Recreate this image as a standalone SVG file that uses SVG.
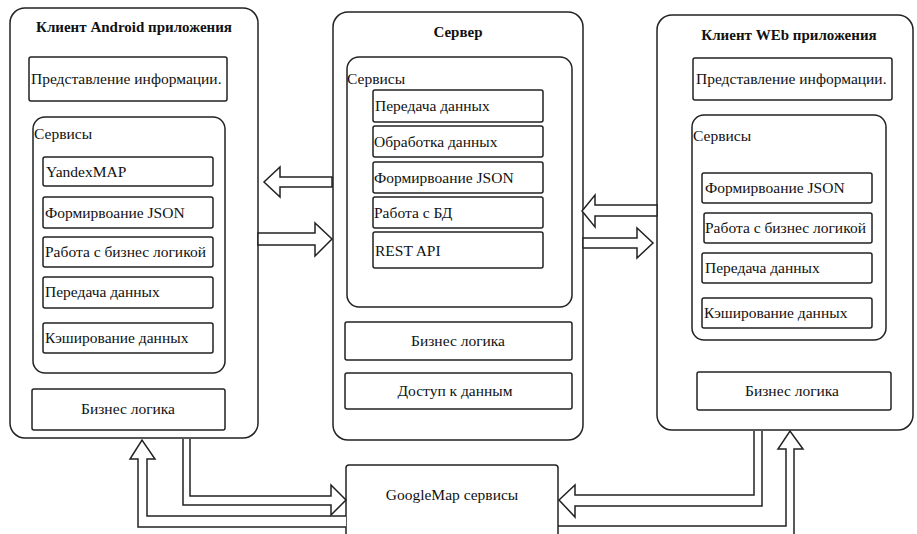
<svg xmlns="http://www.w3.org/2000/svg" width="917" height="534" viewBox="0 0 917 534" font-family="'Liberation Serif', 'DejaVu Serif', serif">
<style>
.box{fill:#fff;stroke:#222;stroke-width:1.5}
.arr{fill:#fff;stroke:#222;stroke-width:1.5;stroke-linejoin:miter}
text{font-family:'Liberation Serif','DejaVu Serif',serif;font-size:15.5px;fill:#111}
.t{font-weight:bold;text-anchor:middle;font-size:15px}
.c{text-anchor:middle}
</style>
<rect width="917" height="534" fill="#fff"/>
<g id="android">
<rect class="box" x="10" y="8" width="248" height="430" rx="15"/>
<text class="t" x="134" y="32">Клиент Android приложения</text>
<g id="android-view"><rect class="box" x="29" y="57" width="198" height="44" rx="2"/><text x="31" y="84">Представление информации.</text></g>
<g id="android-services">
<rect class="box" x="33" y="117" width="192" height="256" rx="12"/>
<text x="34" y="139">Сервисы</text>
<rect class="box" x="43" y="157" width="170" height="29" rx="2"/><text x="46" y="177">YandexMAP</text>
<rect class="box" x="43" y="197" width="170" height="31" rx="2"/><text x="45" y="218">Формирвоание JSON</text>
<rect class="box" x="43" y="237" width="170" height="30" rx="2"/><text x="45" y="257">Работа с бизнес логикой</text>
<rect class="box" x="43" y="277" width="170" height="31" rx="2"/><text x="45" y="297">Передача данных</text>
<rect class="box" x="43" y="323" width="170" height="30" rx="2"/><text x="45" y="343">Кэширование данных</text>
</g>
<g id="android-logic"><rect class="box" x="32" y="389" width="193" height="41" rx="2"/><text class="c" x="128" y="414">Бизнес логика</text></g>
</g>
<g id="server">
<rect class="box" x="333" y="12" width="250" height="428" rx="15"/>
<text class="t" x="458" y="37">Сервер</text>
<g id="server-services">
<rect class="box" x="347" y="57" width="225" height="250" rx="12"/>
<text x="347" y="84">Сервисы</text>
<rect class="box" x="373" y="90" width="170" height="32" rx="2"/><text x="375" y="111">Передача данных</text>
<rect class="box" x="373" y="126" width="170" height="31" rx="2"/><text x="374" y="147">Обработка данных</text>
<rect class="box" x="373" y="162" width="170" height="31" rx="2"/><text x="374" y="183">Формирвоание JSON</text>
<rect class="box" x="373" y="197" width="170" height="31" rx="2"/><text x="374" y="218">Работа с БД</text>
<rect class="box" x="373" y="232" width="170" height="36" rx="2"/><text x="375" y="256">REST API</text>
</g>
<g id="server-logic"><rect class="box" x="345" y="322" width="227" height="38" rx="2"/><text class="c" x="458" y="346">Бизнес логика</text></g>
<g id="server-data"><rect class="box" x="345" y="373" width="227" height="36" rx="2"/><text class="c" x="455" y="396">Доступ к данным</text></g>
</g>
<g id="web">
<rect class="box" x="657" y="15" width="256" height="415" rx="15"/>
<text class="t" x="789" y="40">Клиент WEb приложения</text>
<g id="web-view"><rect class="box" x="693" y="58" width="199" height="42" rx="2"/><text x="696" y="84">Представление информации.</text></g>
<g id="web-services">
<rect class="box" x="692" y="115" width="194" height="225" rx="12"/>
<text x="693" y="141">Сервисы</text>
<rect class="box" x="702" y="173" width="170" height="30" rx="2"/><text x="705" y="193">Формирвоание JSON</text>
<rect class="box" x="704" y="213" width="168" height="30" rx="2"/><text x="705" y="233">Работа с бизнес логикой</text>
<rect class="box" x="702" y="253" width="170" height="30" rx="2"/><text x="705" y="273">Передача данных</text>
<rect class="box" x="702" y="298" width="170" height="30" rx="2"/><text x="704" y="318">Кэширование данных</text>
</g>
<g id="web-logic"><rect class="box" x="697" y="372" width="194" height="38" rx="2"/><text class="c" x="792" y="396">Бизнес логика</text></g>
</g>
<g id="googlemap">
<rect class="box" x="346" y="465" width="212" height="85" rx="3"/>
<text class="c" x="452" y="500">GoogleMap сервисы</text>
</g>
<g id="connectors">
<polygon class="arr" points="332,177 280,177 280,167 264,182 280,197 280,187 332,187"/>
<polygon class="arr" points="258,233 315,233 315,223 332,239 315,256 315,245 258,245"/>
<polygon class="arr" points="657,205 595,205 595,195 582,211 595,227 595,216 657,216"/>
<polygon class="arr" points="583,238 637,238 637,228 653,243 637,258 637,248 583,248"/>
<path class="arr" d="M346,516 L147,516 L147,459 L155,459 L142,440 L130,459 L138,459 L138,527 L346,527"/>
<path class="arr" d="M183,439 L183,505 L331,505 L331,515 L346,500 L331,485 L331,496 L190,496 L190,439"/>
<path class="arr" d="M762,431 L762,506 L575,506 L575,517 L559,500 L575,485 L575,495 L754,495 L754,431"/>
<path class="arr" d="M558,526 L786,526 L786,449 L778,449 L790,431 L803,449 L794,449 L794,545"/>
</g>
</svg>
